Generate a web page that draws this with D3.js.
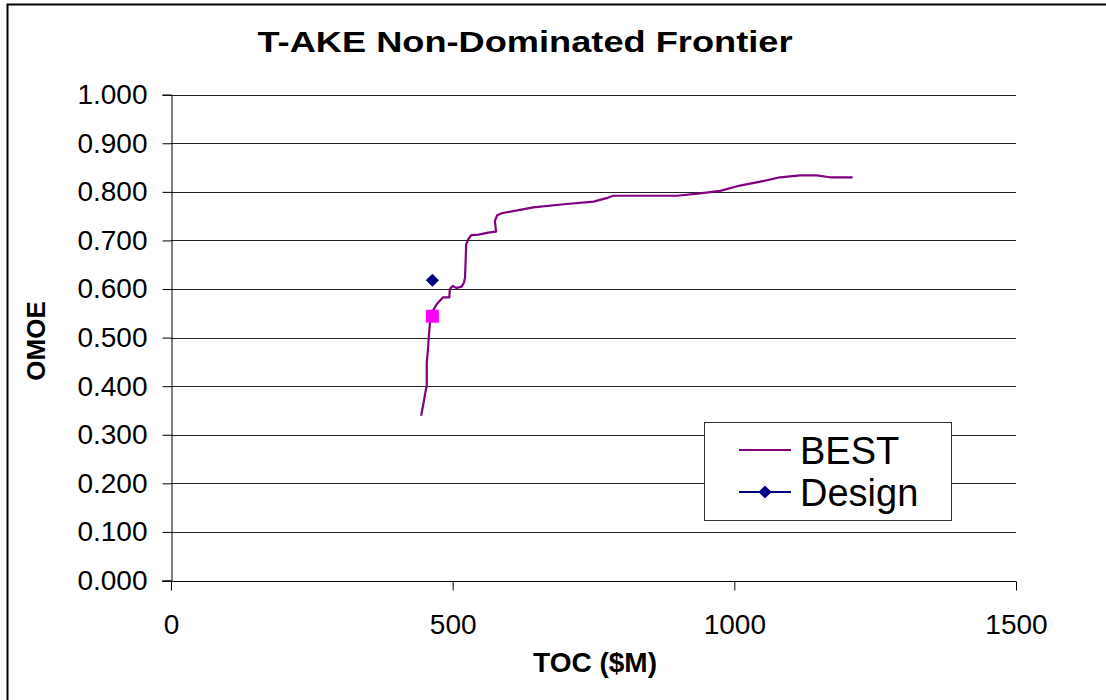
<!DOCTYPE html>
<html>
<head>
<meta charset="utf-8">
<script src="https://cdn.jsdelivr.net/npm/d3@7"></script>
<style>
  html, body { margin: 0; padding: 0; background: #fff; }
  svg { display: block; font-family: "Liberation Sans", Arial, sans-serif; }
</style>
</head>
<body>
<svg id="chart" width="1106" height="700"></svg>
<script>
// Non-dominated frontier (BEST), cost vs. effectiveness
const bestToc = [444, 449, 452, 454, 454, 456, 458, 460, 463, 472, 483, 494, 495, 500, 507, 516, 520, 522, 524, 528, 533, 546, 563, 577, 575, 579, 587, 643, 702, 750, 773, 785, 898, 939, 975, 1010, 1046, 1081, 1117, 1146, 1170, 1210];
const bestOmoe = [0.339, 0.370, 0.390, 0.400, 0.449, 0.473, 0.507, 0.534, 0.552, 0.569, 0.583, 0.583, 0.600, 0.606, 0.602, 0.605, 0.613, 0.624, 0.692, 0.703, 0.711, 0.712, 0.716, 0.718, 0.740, 0.752, 0.756, 0.768, 0.775, 0.780, 0.787, 0.792, 0.792, 0.797, 0.802, 0.813, 0.821, 0.830, 0.834, 0.834, 0.830, 0.830];

// Selected design point
const designToc = [464];
const designOmoe = [0.618];

// Baseline ship point
const baseToc = [464];
const baseOmoe = [0.544];

const yTicks = [0, 0.1, 0.2, 0.3, 0.4, 0.5, 0.6, 0.7, 0.8, 0.9, 1.0];
const xTicks = [0, 500, 1000, 1500];
const seriesNames = ["BEST", "Design"];

const svg = d3.select("#chart");

// outer frame
svg.append("path")
  .attr("d", "M7.5,720 L7.5,4.5 L1120,4.5")
  .attr("fill", "none").attr("stroke", "#000").attr("stroke-width", 2);

const x = d3.scaleLinear().domain([0, 1500]).range([171, 1016]);
const y = d3.scaleLinear().domain([0, 1]).range([580.5, 94.7]);

// horizontal gridlines
svg.append("g").selectAll("line").data(yTicks.slice(1)).join("line")
  .attr("x1", x(0)).attr("x2", x(1500))
  .attr("y1", d => Math.round(y(d)) + 0.5).attr("y2", d => Math.round(y(d)) + 0.5)
  .attr("stroke", "#222").attr("stroke-width", 1);

// y axis
const yAxis = svg.append("g")
  .attr("transform", `translate(${Math.round(x(0)) + 0.5},0)`)
  .call(d3.axisLeft(y).tickValues(yTicks).tickFormat(d3.format(".3f")).tickSize(9).tickPadding(15));
yAxis.select(".domain").attr("stroke", "#000");
yAxis.selectAll(".tick line").attr("stroke", "#000");
yAxis.selectAll(".tick text")
  .attr("font-size", 28).attr("fill", "#000")
  .attr("font-family", "Liberation Sans, Arial, sans-serif");

// x axis
const xAxis = svg.append("g")
  .attr("transform", `translate(0,${Math.round(y(0)) + 0.5})`)
  .call(d3.axisBottom(x).tickValues(xTicks).tickFormat(d3.format("d")).tickSize(9).tickPadding(24));
xAxis.select(".domain").attr("stroke", "#000").attr("d", `M${x(0) - 9},0H${x(1500)}`);
xAxis.selectAll(".tick line").attr("stroke", "#000");
xAxis.selectAll(".tick text")
  .attr("font-size", 28).attr("fill", "#000")
  .attr("font-family", "Liberation Sans, Arial, sans-serif");

// frontier line
const line = d3.line().x(d => x(d[0])).y(d => y(d[1]));
svg.append("path")
  .datum(bestToc.map((t, i) => [t, bestOmoe[i]]))
  .attr("d", line)
  .attr("fill", "none").attr("stroke", "#800080").attr("stroke-width", 2.2)
  .attr("stroke-linejoin", "round");

// baseline square
svg.append("g").selectAll("rect").data(baseToc.map((t, i) => [t, baseOmoe[i]])).join("rect")
  .attr("x", d => x(d[0]) - 6.5).attr("y", d => y(d[1]) - 6.5)
  .attr("width", 13).attr("height", 13).attr("fill", "#ff00ff");

// design diamond
const diamond = d3.symbol().type(d3.symbolDiamond2).size(110);
svg.append("g").selectAll("path").data(designToc.map((t, i) => [t, designOmoe[i]])).join("path")
  .attr("transform", d => `translate(${x(d[0])},${y(d[1])})`)
  .attr("d", diamond).attr("fill", "#000080");

// title
svg.append("text")
  .attr("x", 525).attr("y", 52)
  .attr("text-anchor", "middle")
  .attr("font-size", 29).attr("font-weight", "bold")
  .attr("textLength", 535).attr("lengthAdjust", "spacingAndGlyphs")
  .text("T-AKE Non-Dominated Frontier");

// axis titles
svg.append("text")
  .attr("transform", "translate(45,341) rotate(-90)")
  .attr("text-anchor", "middle")
  .attr("font-size", 26).attr("font-weight", "bold")
  .text("OMOE");
svg.append("text")
  .attr("x", 595).attr("y", 672)
  .attr("text-anchor", "middle")
  .attr("font-size", 28).attr("font-weight", "bold")
  .text("TOC ($M)");

// legend
const lg = svg.append("g");
lg.append("rect")
  .attr("x", 704.5).attr("y", 422.5).attr("width", 247).attr("height", 98)
  .attr("fill", "#fff").attr("stroke", "#333").attr("stroke-width", 1);
const legendColors = ["#800080", "#000080"];
const legendY = [450, 492];
seriesNames.forEach((name, i) => {
  lg.append("line")
    .attr("x1", 739).attr("x2", 791)
    .attr("y1", legendY[i]).attr("y2", legendY[i])
    .attr("stroke", legendColors[i]).attr("stroke-width", 2);
  if (i === 1) {
    lg.append("path")
      .attr("transform", `translate(765,${legendY[i]})`)
      .attr("d", diamond).attr("fill", "#000080");
  }
  lg.append("text")
    .attr("x", 800).attr("y", legendY[i] + 13.5)
    .attr("font-size", 38)
    .text(name);
});
</script>
</body>
</html>
